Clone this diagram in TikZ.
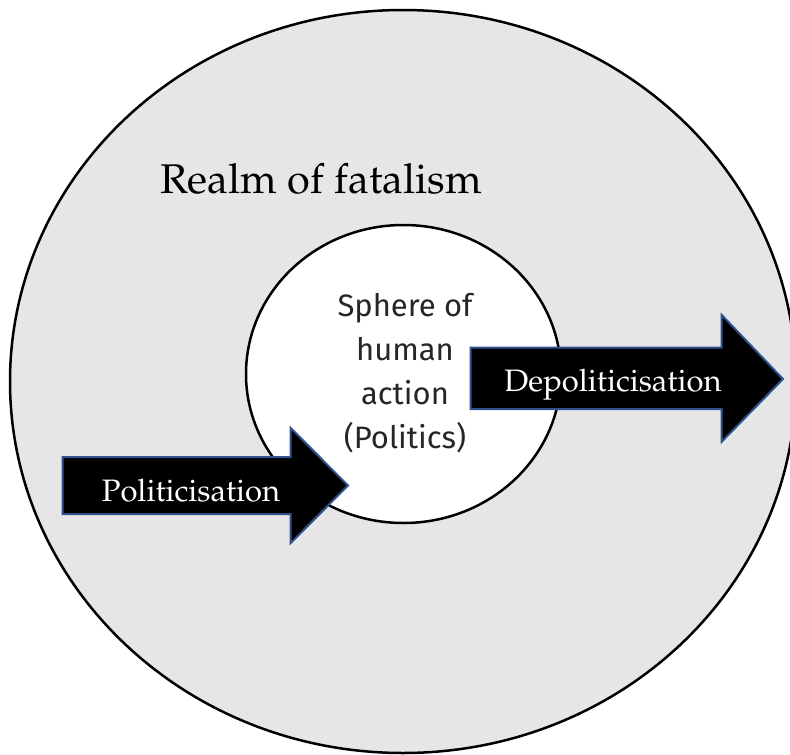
\documentclass[tikz,border=0pt]{standalone}
\usepackage[T1]{fontenc}
\usepackage{fontspec}
\newfontfamily\spherefont{Fira Sans}
\newcommand\palfont{\fontencoding{T1}\fontfamily{ppl}\selectfont}
\definecolor{realmgray}{RGB}{230,230,230}
\definecolor{arrowblue}{RGB}{47,82,143}
\begin{document}
\begin{tikzpicture}[x=1pt,y=-1pt,line join=miter,
		realm/.style={fill=realmgray,draw=black,line width=2.5pt},
		sphere/.style={fill=white,draw=black,line width=2.5pt},
		bigarrow/.style={fill=black,draw=arrowblue,line width=2pt},
		arrowtext/.style={text=white,inner sep=0pt,anchor=base,font=\palfont\fontsize{31}{36}\selectfont}]
	\useasboundingbox (0,0) rectangle (790,755);
	\clip (0,0) rectangle (790,755);
	\coordinate (outer) at (403,381.5);
	\coordinate (inner) at (403.5,374);
	\fill [white] (0,0) rectangle (790,755);
	\draw [realm] (outer) ellipse [x radius=393, y radius=371.5];
	\draw [sphere] (inner) ellipse [x radius=157.5, y radius=149];
	\node [anchor=base,inner sep=0pt,font=\palfont\fontsize{41.5}{48}\selectfont] (realmtext) at (321,193) {Realm of fatalism};
	\node [align=center,inner sep=0pt,text=black!85,font=\spherefont\fontsize{31}{44}\selectfont] (spheretext) at (405,373) {Sphere of\\human\\action\\(Politics)};
	\draw [bigarrow] (62.7,457)--(290.7,457)--(290.7,428)--(348,485.5)--(290.7,543)--(290.7,514)--(62.7,514)--cycle;
	\node [arrowtext] (politicisation) at (191,501.7) {Politicisation};
	\draw [bigarrow] (470.7,347.7)--(721.7,347.7)--(721.7,315)--(783,379)--(721.7,441.7)--(721.7,409)--(470.7,409)--cycle;
	\node [arrowtext] (depoliticisation) at (613,391) {Depoliticisation};
\end{tikzpicture}
\end{document}
